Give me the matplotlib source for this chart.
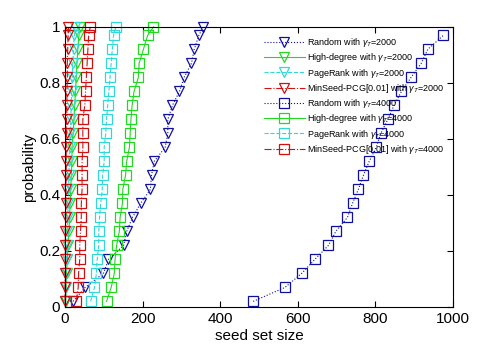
import matplotlib
matplotlib.use("Agg")
import matplotlib.pyplot as plt

plt.rcParams['font.family'] = ['Liberation Sans', 'DejaVu Sans']
plt.rcParams['mathtext.fontset'] = 'custom'
plt.rcParams['mathtext.rm'] = 'Liberation Sans'
plt.rcParams['mathtext.it'] = 'Liberation Sans:italic'

# probability levels (bottom to top)
prob21 = [0.02, 0.07, 0.12, 0.17, 0.22, 0.27, 0.32, 0.37, 0.42, 0.47, 0.52,
          0.57, 0.62, 0.67, 0.72, 0.77, 0.82, 0.87, 0.92, 0.97, 1.0]
prob20 = prob21[:20]

# gamma_T = 2000 (triangles)
random_2000 = [21, 52, 99, 112, 151, 159, 174, 195, 220, 223, 230,
               258, 265, 265, 277, 295, 307, 326, 333, 345, 356]
highdeg_2000 = [2, 3, 4, 6, 8, 10, 12, 13, 15, 16, 18,
                18, 21, 23, 25, 27, 29, 31, 33, 36, 38]
pagerank_2000 = [1, 2, 3, 4, 5, 6, 7, 8, 9, 10, 11,
                 12, 13, 15, 16, 17, 19, 20, 22, 24, 26]
minseed_2000 = [0, 0, 0, 1, 1, 1, 2, 2, 2, 3, 3,
                3, 4, 4, 5, 5, 6, 6, 7, 8, 9]

# gamma_T = 4000 (squares)
random_4000 = [485, 567, 610, 644, 679, 698, 728, 741, 756, 769,
               784, 802, 814, 832, 848, 867, 892, 918, 935, 975]
highdeg_4000 = [107, 119, 127, 129, 133, 140, 142, 148, 149, 156, 159,
                166, 168, 170, 173, 178, 189, 191, 202, 213, 228]
pagerank_4000 = [66, 76, 81, 83, 87, 87, 89, 92, 96, 97, 101,
                 101, 105, 107, 110, 113, 116, 119, 122, 125, 131]
minseed_4000 = [29, 34, 35, 38, 38, 40, 42, 42, 44, 44, 44,
                46, 46, 46, 51, 53, 55, 57, 59, 61, 65]

labels = ["Random with $\\gamma_T$=2000", "High-degree with $\\gamma_T$=2000",
          "PageRank with $\\gamma_T$=2000", "MinSeed-PCG[0.01] with $\\gamma_T$=2000",
          "Random with $\\gamma_T$=4000", "High-degree with $\\gamma_T$=4000",
          "PageRank with $\\gamma_T$=4000", "MinSeed-PCG[0.01] with $\\gamma_T$=4000"]

c_blue = '#1010A0'
c_green = '#22D822'
c_cyan = '#30D8D8'
c_red = '#D01010'

fig = plt.figure(figsize=(5, 3.5), dpi=100)
ax = fig.add_axes([0.13, 0.1229, 0.776, 0.8])

ms = 6.5
series = [
    (random_2000, prob21, ':', 'v', c_blue),
    (highdeg_2000, prob21, '-', 'v', c_green),
    (pagerank_2000, prob21, '--', 'v', c_cyan),
    (minseed_2000, prob21, '-.', 'v', c_red),
    (random_4000, prob20, ':', 's', c_blue),
    (highdeg_4000, prob21, '-', 's', c_green),
    (pagerank_4000, prob21, '--', 's', c_cyan),
    (minseed_4000, prob21, '-.', 's', c_red),
]
for (xs, ys, ls, mk, col), lab in zip(series, labels):
    ax.plot(xs, ys, linestyle=ls, marker=mk, color=col, mfc='none', mec=col,
            ms=ms, lw=0.8, mew=0.9, label=lab, clip_on=False)

ax.set_xlim(0, 1000)
ax.set_ylim(0, 1)
ax.set_xticks([0, 200, 400, 600, 800, 1000])
ax.set_yticks([0, 0.2, 0.4, 0.6, 0.8, 1])
ax.set_yticklabels(['0', '0.2', '0.4', '0.6', '0.8', '1'])
ax.tick_params(direction='in', top=True, right=True, labelsize=11, length=4, width=0.8)
for s in ax.spines.values():
    s.set_linewidth(0.8)
ax.set_xlabel('seed set size', fontsize=11, labelpad=2)
ax.set_ylabel('probability', fontsize=11, labelpad=2)

leg = ax.legend(loc='upper right', bbox_to_anchor=(0.993, 0.99), frameon=False,
                fontsize=6.5, numpoints=1, handlelength=4.6, handletextpad=0.2,
                labelspacing=0.25, borderaxespad=0.3)

fig.savefig('out.png', dpi=100)
